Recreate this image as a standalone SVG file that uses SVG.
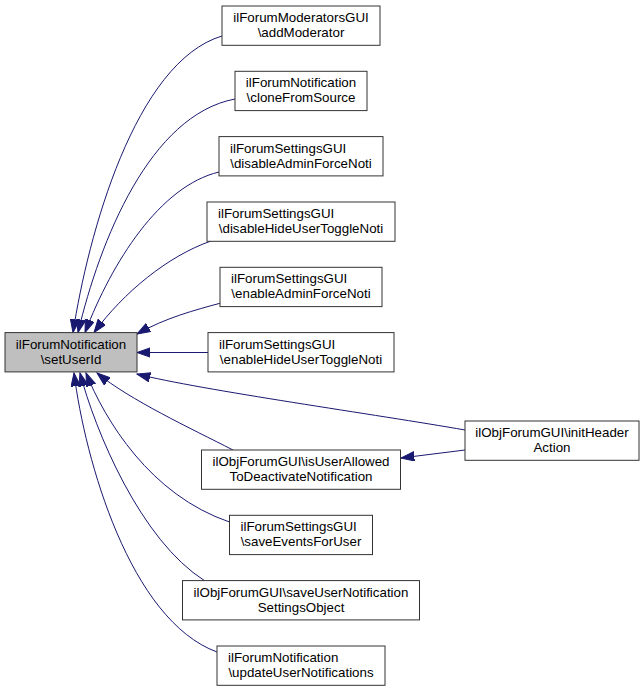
<svg xmlns="http://www.w3.org/2000/svg" width="644" height="692" viewBox="0 0 644 692">
<style>
.n rect{fill:#ffffff;stroke:#333333;stroke-width:1}
.n.main rect{fill:#bfbfbf}
.n text{font-family:"Liberation Sans",Arial,Helvetica,sans-serif;font-size:13.33px;fill:#000000}
.m{text-anchor:middle}
.s{text-anchor:start}
.e path{fill:none;stroke:#191970;stroke-width:1;marker-end:url(#ah)}
</style>
<defs>
<marker id="ah" markerUnits="userSpaceOnUse" markerWidth="15" markerHeight="11" refX="13.3" refY="5" orient="auto">
<path d="M0,0.3 L13.3,5 L0,9.7 z" fill="#191970" stroke="#191970" stroke-width="1"/>
</marker>
</defs>
<rect x="0" y="0" width="644" height="692" fill="#ffffff"/>
<g id="edges" class="e">
<path d="M222,36 C135,62 88,235 73,332.6"/>
<path d="M235,99 C150,115 100,240 78,332.6"/>
<path d="M219,172 C160,186 112,262 85,332.6"/>
<path d="M211,241 C168,256 124,292 94,332.6"/>
<path d="M221,303 C195,310 165,318 137,334"/>
<path d="M208,352.5 L137,352.5"/>
<path d="M465,430 C380,415 200,390 137,374"/>
<path d="M465,450 L401,458"/>
<path d="M233,450 C190,428 130,400 97,373"/>
<path d="M229.5,522 C150,495 105,420 86,373"/>
<path d="M205,581 C140,540 95,430 80,373"/>
<path d="M217,652 C130,620 85,460 74,373"/>
</g>
<g id="node_main" class="n main">
<rect x="5" y="332.6" width="132" height="39.3"/>
<text class="m" x="71" y="348.6">ilForumNotification</text>
<text class="m" x="71" y="363.6">\setUserId</text>
</g>
<g id="node_addModerator" class="n">
<rect x="222" y="6" width="158" height="39.3"/>
<text class="m" x="301" y="22">ilForumModeratorsGUI</text>
<text class="m" x="301" y="37">\addModerator</text>
</g>
<g id="node_cloneFromSource" class="n">
<rect x="235" y="71.3" width="132" height="39.3"/>
<text class="m" x="301" y="87.3">ilForumNotification</text>
<text class="m" x="301" y="102.3">\cloneFromSource</text>
</g>
<g id="node_disableAdminForceNoti" class="n">
<rect x="219" y="136.6" width="164" height="39.3"/>
<text class="s" x="230" y="152.6">ilForumSettingsGUI</text>
<text class="m" x="301" y="167.6">\disableAdminForceNoti</text>
</g>
<g id="node_disableHideUserToggleNoti" class="n">
<rect x="207" y="202" width="188" height="39.3"/>
<text class="s" x="218" y="218">ilForumSettingsGUI</text>
<text class="m" x="301" y="233">\disableHideUserToggleNoti</text>
</g>
<g id="node_enableAdminForceNoti" class="n">
<rect x="220" y="267.3" width="162" height="39.3"/>
<text class="s" x="231" y="283.3">ilForumSettingsGUI</text>
<text class="m" x="301" y="298.3">\enableAdminForceNoti</text>
</g>
<g id="node_enableHideUserToggleNoti" class="n">
<rect x="208" y="332.6" width="186" height="39.3"/>
<text class="s" x="219" y="348.6">ilForumSettingsGUI</text>
<text class="m" x="301" y="363.6">\enableHideUserToggleNoti</text>
</g>
<g id="node_isUserAllowedToDeactivateNotification" class="n">
<rect x="201.5" y="450" width="199" height="39.3"/>
<text class="m" x="301" y="466">ilObjForumGUI\isUserAllowed</text>
<text class="m" x="301" y="481">ToDeactivateNotification</text>
</g>
<g id="node_saveEventsForUser" class="n">
<rect x="229.5" y="515.3" width="143" height="39.3"/>
<text class="s" x="240.5" y="531.3">ilForumSettingsGUI</text>
<text class="m" x="301" y="546.3">\saveEventsForUser</text>
</g>
<g id="node_saveUserNotificationSettingsObject" class="n">
<rect x="182.5" y="580.6" width="237" height="39.3"/>
<text class="m" x="301" y="596.6">ilObjForumGUI\saveUserNotification</text>
<text class="m" x="301" y="611.6">SettingsObject</text>
</g>
<g id="node_updateUserNotifications" class="n">
<rect x="217" y="646" width="168" height="39.3"/>
<text class="s" x="228" y="662">ilForumNotification</text>
<text class="m" x="301" y="677">\updateUserNotifications</text>
</g>
<g id="node_initHeaderAction" class="n">
<rect x="465" y="421" width="174" height="39.3"/>
<text class="m" x="552" y="437">ilObjForumGUI\initHeader</text>
<text class="m" x="552" y="452">Action</text>
</g>
</svg>
